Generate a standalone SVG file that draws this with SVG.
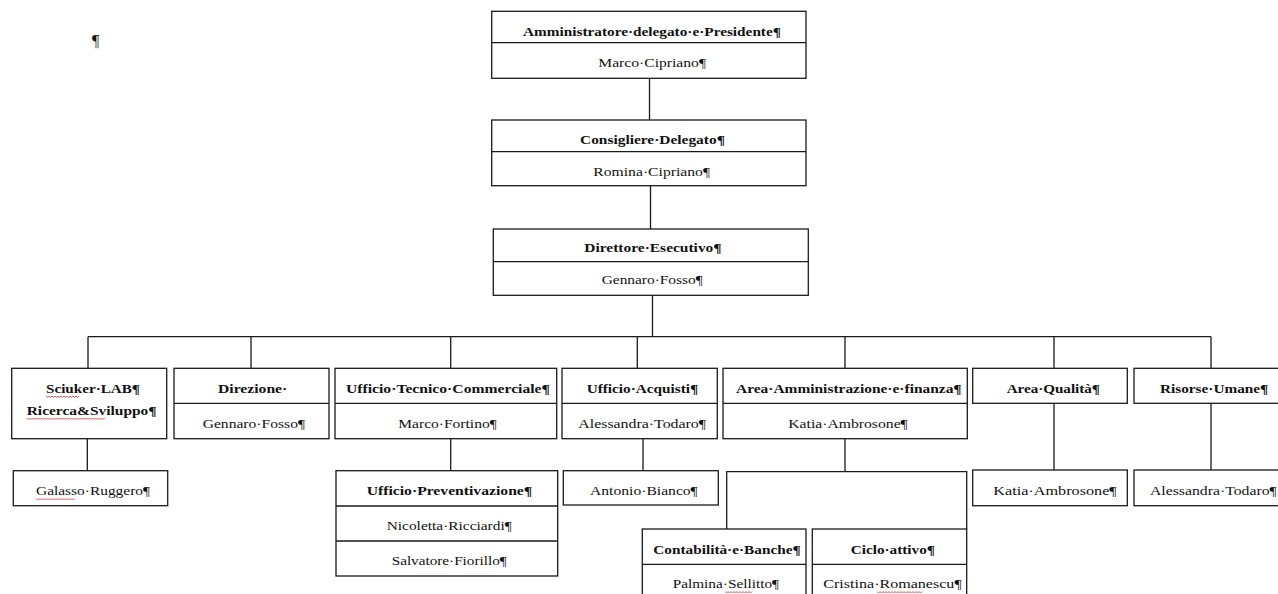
<svg xmlns="http://www.w3.org/2000/svg" width="1278" height="594" viewBox="0 0 1278 594">
<style>
.b{fill:#fff;stroke:#1a1a1a;stroke-width:1.3}
.d{stroke:#1a1a1a;stroke-width:1.3;fill:none}
.c{stroke:#1a1a1a;stroke-width:1.3;fill:none}
text{font-family:"Liberation Serif","Times New Roman",serif;font-size:13.5px;fill:#111}
.h{font-weight:bold}
.w{stroke:#e03030;stroke-width:0.8;fill:none}
</style>
<rect width="1278" height="594" fill="#fff"/>
<text x="92" y="46" style="font-size:16px">¶</text>
<g id="connectors">
<path class="c" d="M649.5 78.3V120M650.5 185.7V229M652.5 295.3V336.7M88 336.7H1211M88 336.7V368.3M251 336.7V368.3M450.7 336.7V368.3M637.3 336.7V368.3M845 336.7V368.3M1054 336.7V368.3M1211 336.7V368.3"/>
<path class="c" d="M87.3 438.7V470.7M450.7 438.7V470.7M643 438.7V470.7M845 438.7V471.7M726.7 529V471.7H966.7V529M1054 403.3V470M1211 403.3V470"/>
</g>
<g id="n-amm">
<rect class="b" x="491.7" y="11.3" width="314.3" height="67"/>
<path class="d" d="M491.7 42.7H806"/>
<text class="h" x="523" y="35.5" textLength="258" lengthAdjust="spacingAndGlyphs">Amministratore·delegato·e·Presidente¶</text>
<text x="598.3" y="67" textLength="107.7" lengthAdjust="spacingAndGlyphs">Marco·Cipriano¶</text>
</g>
<g id="n-cons">
<rect class="b" x="491.7" y="120" width="314.3" height="65.7"/>
<path class="d" d="M491.7 151.7H806"/>
<text class="h" x="580" y="143.5" textLength="145" lengthAdjust="spacingAndGlyphs">Consigliere·Delegato¶</text>
<text x="593.3" y="175.5" textLength="116.7" lengthAdjust="spacingAndGlyphs">Romina·Cipriano¶</text>
</g>
<g id="n-dir">
<rect class="b" x="493.3" y="229" width="315" height="66.3"/>
<path class="d" d="M493.3 261.7H808.3"/>
<text class="h" x="584.3" y="252.3" textLength="137.4" lengthAdjust="spacingAndGlyphs">Direttore·Esecutivo¶</text>
<text x="601.7" y="284.3" textLength="101" lengthAdjust="spacingAndGlyphs">Gennaro·Fosso¶</text>
</g>
<g id="n-sciuker">
<rect class="b" x="11.7" y="368.3" width="155" height="70.4"/>
<text class="h" x="46" y="392.7" textLength="94" lengthAdjust="spacingAndGlyphs">Sciuker·LAB¶</text>
<text class="h" x="26.7" y="414.5" textLength="130" lengthAdjust="spacingAndGlyphs">Ricerca&amp;Sviluppo¶</text>
<path class="w" d="M46 396l1.5 1.5 1.5-1.5 1.5 1.5 1.5-1.5 1.5 1.5 1.5-1.5 1.5 1.5 1.5-1.5 1.5 1.5 1.5-1.5 1.5 1.5 1.5-1.5 1.5 1.5 1.5-1.5 1.5 1.5 1.5-1.5 1.5 1.5 1.5-1.5 1.5 1.5 1.5-1.5 1.5 1.5 1.5-1.5"/>
<path class="w" d="M26.7 418l1.5 1.5 1.5-1.5 1.5 1.5 1.5-1.5 1.5 1.5 1.5-1.5 1.5 1.5 1.5-1.5 1.5 1.5 1.5-1.5 1.5 1.5 1.5-1.5 1.5 1.5 1.5-1.5 1.5 1.5 1.5-1.5 1.5 1.5 1.5-1.5 1.5 1.5 1.5-1.5 1.5 1.5 1.5-1.5 1.5 1.5 1.5-1.5 1.5 1.5 1.5-1.5 1.5 1.5 1.5-1.5 1.5 1.5 1.5-1.5 1.5 1.5 1.5-1.5 1.5 1.5 1.5-1.5 1.5 1.5 1.5-1.5 1.5 1.5 1.5-1.5 1.5 1.5 1.5-1.5 1.5 1.5 1.5-1.5 1.5 1.5 1.5-1.5 1.5 1.5 1.5-1.5 1.5 1.5 1.5-1.5 1.5 1.5 1.5-1.5 1.5 1.5 1.5-1.5"/>
</g>
<g id="n-direzione">
<rect class="b" x="174" y="368.3" width="155" height="70.4"/>
<path class="d" d="M174 403.3H329"/>
<text class="h" x="218" y="392.7" textLength="69.3" lengthAdjust="spacingAndGlyphs">Direzione·</text>
<text x="202.7" y="427.7" textLength="102.3" lengthAdjust="spacingAndGlyphs">Gennaro·Fosso¶</text>
</g>
<g id="n-utc">
<rect class="b" x="335" y="368.3" width="221.7" height="70.4"/>
<path class="d" d="M335 403.3H556.7"/>
<text class="h" x="346" y="392.7" textLength="204" lengthAdjust="spacingAndGlyphs">Ufficio·Tecnico·Commerciale¶</text>
<text x="398.3" y="427.7" textLength="98.4" lengthAdjust="spacingAndGlyphs">Marco·Fortino¶</text>
</g>
<g id="n-acq">
<rect class="b" x="562" y="368.3" width="155.3" height="70.4"/>
<path class="d" d="M562 403.3H717.3"/>
<text class="h" x="586.7" y="392.7" textLength="111.6" lengthAdjust="spacingAndGlyphs">Ufficio·Acquisti¶</text>
<text x="578.3" y="427.7" textLength="127.7" lengthAdjust="spacingAndGlyphs">Alessandra·Todaro¶</text>
</g>
<g id="n-aaf">
<rect class="b" x="723" y="368.3" width="244.3" height="70.4"/>
<path class="d" d="M723 403.3H967.3"/>
<text class="h" x="736" y="392.7" textLength="225.7" lengthAdjust="spacingAndGlyphs">Area·Amministrazione·e·finanza¶</text>
<text x="788.3" y="427.7" textLength="119.4" lengthAdjust="spacingAndGlyphs">Katia·Ambrosone¶</text>
</g>
<g id="n-qual">
<rect class="b" x="972.7" y="368.3" width="154.6" height="35"/>
<text class="h" x="1006.7" y="392.7" textLength="93.3" lengthAdjust="spacingAndGlyphs">Area·Qualità¶</text>
</g>
<g id="n-ru">
<rect class="b" x="1134" y="368.3" width="160" height="35"/>
<text class="h" x="1160" y="392.7" textLength="108.3" lengthAdjust="spacingAndGlyphs">Risorse·Umane¶</text>
</g>
<g id="n-galasso">
<rect class="b" x="13.3" y="470.7" width="154.4" height="35"/>
<text x="36" y="495" textLength="114" lengthAdjust="spacingAndGlyphs">Galasso·Ruggero¶</text>
<path class="w" d="M36 498.5l1.5 1.5 1.5-1.5 1.5 1.5 1.5-1.5 1.5 1.5 1.5-1.5 1.5 1.5 1.5-1.5 1.5 1.5 1.5-1.5 1.5 1.5 1.5-1.5 1.5 1.5 1.5-1.5 1.5 1.5 1.5-1.5 1.5 1.5 1.5-1.5 1.5 1.5 1.5-1.5 1.5 1.5 1.5-1.5 1.5 1.5 1.5-1.5 1.5 1.5 1.5-1.5"/>
</g>
<g id="n-prev">
<rect class="b" x="336" y="470.7" width="221.7" height="105.3"/>
<path class="d" d="M336 506H557.7M336 541H557.7"/>
<text class="h" x="366.7" y="495" textLength="165.6" lengthAdjust="spacingAndGlyphs">Ufficio·Preventivazione¶</text>
<text x="386.7" y="530" textLength="125" lengthAdjust="spacingAndGlyphs">Nicoletta·Ricciardi¶</text>
<text x="391.7" y="565" textLength="115" lengthAdjust="spacingAndGlyphs">Salvatore·Fiorillo¶</text>
</g>
<g id="n-bianco">
<rect class="b" x="563.3" y="470.7" width="155" height="34.3"/>
<text x="590" y="495" textLength="107.7" lengthAdjust="spacingAndGlyphs">Antonio·Bianco¶</text>
</g>
<g id="n-contab">
<rect class="b" x="642.3" y="529" width="163.7" height="80"/>
<path class="d" d="M642.3 564.3H806"/>
<text class="h" x="653.3" y="554" textLength="147.4" lengthAdjust="spacingAndGlyphs">Contabilità·e·Banche¶</text>
<text x="672.7" y="588.3" textLength="106.3" lengthAdjust="spacingAndGlyphs">Palmina·Sellitto¶</text>
<path class="w" d="M725 591.5l1.5 1.5 1.5-1.5 1.5 1.5 1.5-1.5 1.5 1.5 1.5-1.5 1.5 1.5 1.5-1.5 1.5 1.5 1.5-1.5 1.5 1.5 1.5-1.5 1.5 1.5 1.5-1.5 1.5 1.5 1.5-1.5 1.5 1.5 1.5-1.5"/>
</g>
<g id="n-ciclo">
<rect class="b" x="812.3" y="529" width="154.4" height="80"/>
<path class="d" d="M812.3 564.3H966.7"/>
<text class="h" x="850.7" y="554" textLength="84.3" lengthAdjust="spacingAndGlyphs">Ciclo·attivo¶</text>
<text x="823.3" y="588.3" textLength="138.4" lengthAdjust="spacingAndGlyphs">Cristina·Romanescu¶</text>
<path class="w" d="M877 591.5l1.5 1.5 1.5-1.5 1.5 1.5 1.5-1.5 1.5 1.5 1.5-1.5 1.5 1.5 1.5-1.5 1.5 1.5 1.5-1.5 1.5 1.5 1.5-1.5 1.5 1.5 1.5-1.5 1.5 1.5 1.5-1.5 1.5 1.5 1.5-1.5 1.5 1.5 1.5-1.5 1.5 1.5 1.5-1.5 1.5 1.5 1.5-1.5 1.5 1.5 1.5-1.5 1.5 1.5 1.5-1.5 1.5 1.5 1.5-1.5"/>
</g>
<g id="n-katia2">
<rect class="b" x="972.7" y="470" width="154.6" height="35.7"/>
<text x="993.3" y="495" textLength="123.4" lengthAdjust="spacingAndGlyphs">Katia·Ambrosone¶</text>
</g>
<g id="n-todaro2">
<rect class="b" x="1134" y="470" width="160" height="35.7"/>
<text x="1150" y="495" textLength="126.7" lengthAdjust="spacingAndGlyphs">Alessandra·Todaro¶</text>
</g>
</svg>
